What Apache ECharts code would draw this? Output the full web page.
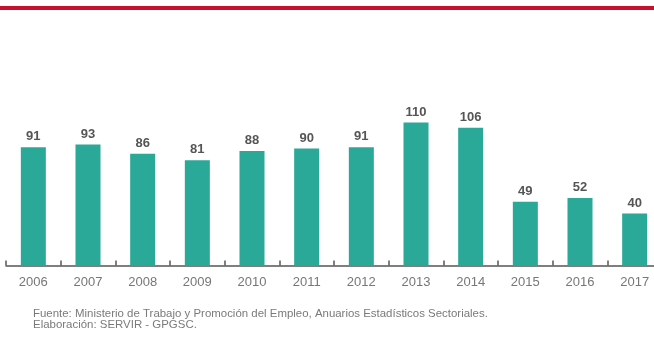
<!DOCTYPE html>
<html>
<head>
<meta charset="utf-8">
<script src="https://cdn.jsdelivr.net/npm/echarts@6/dist/echarts.min.js"></script>
<style>
  html, body { margin: 0; padding: 0; background: #fff; overflow: hidden; }
  #chart { width: 664px; height: 340px; }
</style>
</head>
<body>
<div id="chart"></div>
<script>
const years = ['2006', '2007', '2008', '2009', '2010', '2011', '2012', '2013', '2014', '2015', '2016', '2017'];
const values = [91, 93, 86, 81, 88, 90, 91, 110, 106, 49, 52, 40];
const sourceLines = [
  'Fuente: Ministerio de Trabajo y Promoción del Empleo, Anuarios Estadísticos Sectoriales.',
  'Elaboración: SERVIR - GPGSC.'
];

// the div is a little wider than the window so the last category runs past the right edge
const chart = echarts.init(document.getElementById('chart'));

const option = {
  backgroundColor: '#ffffff',
  animation: false,
  textStyle: { fontFamily: 'Liberation Sans, Arial, sans-serif' },
  graphic: [
    {
      type: 'rect',
      left: 0,
      top: 6,
      shape: { width: 664, height: 4 },
      style: { fill: '#c8102e' }
    },
    {
      type: 'text',
      x: 33,
      y: 309,
      scaleX: 1.04,
      style: {
        text: sourceLines.join('\n'),
        fill: '#7a7a7a',
        font: '11px "Liberation Sans", Arial, sans-serif',
        lineHeight: 10.5
      }
    }
  ],
  grid: {
    left: 6,
    right: 2,
    top: 109.5,
    bottom: 74.5,
    outerBoundsMode: 'none',
    containLabel: false
  },
  xAxis: {
    type: 'category',
    data: years,
    axisLine: { lineStyle: { color: '#555', width: 1.5 } },
    axisTick: { show: true, inside: true, length: 5, lineStyle: { color: '#555', width: 1.5 } },
    axisLabel: {
      color: '#777',
      fontSize: 13,
      margin: 10,
      interval: 0
    }
  },
  yAxis: {
    type: 'value',
    min: 0,
    max: 120,
    show: false,
    splitLine: { show: false }
  },
  series: [
    {
      type: 'bar',
      data: values,
      barWidth: 25,
      itemStyle: { color: '#2aa898' },
      label: {
        show: true,
        position: 'top',
        distance: 4,
        color: '#555',
        fontSize: 13,
        fontWeight: 'bold'
      }
    }
  ]
};

chart.setOption(option);
</script>
</body>
</html>
